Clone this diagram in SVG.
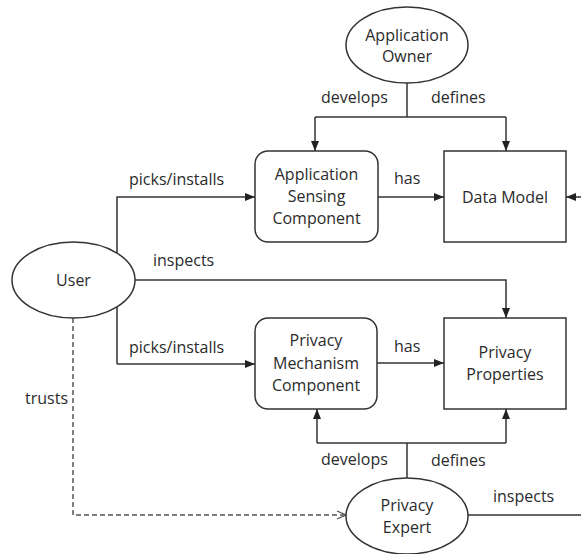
<svg xmlns="http://www.w3.org/2000/svg" width="581" height="554" viewBox="0 0 581 554">
<style>
text{font-family:"Open Sans","Liberation Sans",sans-serif;font-size:16px;fill:#2b2b2b}
.c{text-anchor:middle}
.shape{fill:#fff;stroke:#333;stroke-width:1.5}
.line{fill:none;stroke:#333;stroke-width:1.5}
.dash{fill:none;stroke:#555;stroke-width:1.5;stroke-dasharray:5 3}
</style>
<defs>
<marker id="arr" viewBox="0 0 10 8" refX="10" refY="4" markerWidth="10" markerHeight="8" markerUnits="userSpaceOnUse" orient="auto">
<path d="M0,0 L10,4 L0,8 Z" fill="#222"/>
</marker>
<marker id="open" viewBox="0 0 10 10" refX="10" refY="5" markerWidth="10" markerHeight="10" markerUnits="userSpaceOnUse" orient="auto">
<path d="M1,1 L10,5 L1,9" fill="none" stroke="#555" stroke-width="1.3"/>
</marker>
</defs>
<g id="connectors">
<path class="line" d="M407,83 V117"/>
<path class="line" d="M315,117 H506"/>
<path class="line" d="M315,117 V151" marker-end="url(#arr)"/>
<path class="line" d="M506,117 V151" marker-end="url(#arr)"/>
<path class="line" d="M117,364 V197 H255" marker-end="url(#arr)"/>
<path class="line" d="M117,364 H255" marker-end="url(#arr)"/>
<path class="line" d="M378,197 H444" marker-end="url(#arr)"/>
<path class="line" d="M377,363 H444" marker-end="url(#arr)"/>
<path class="line" d="M135,280 H506 V318" marker-end="url(#arr)"/>
<path class="line" d="M581,197 H566" marker-end="url(#arr)"/>
<path class="line" d="M407,478 V443"/>
<path class="line" d="M317,443 H506"/>
<path class="line" d="M317,443 V409" marker-end="url(#arr)"/>
<path class="line" d="M506,443 V409" marker-end="url(#arr)"/>
<path class="line" d="M468,515 H581"/>
<path class="dash" d="M73,318 V515 H346" marker-end="url(#open)"/>
<text x="321" y="103">develops</text>
<text x="431" y="103">defines</text>
<text x="129" y="185">picks/installs</text>
<text x="394" y="184">has</text>
<text x="153" y="266">inspects</text>
<text x="129" y="353">picks/installs</text>
<text x="394" y="352">has</text>
<text x="25" y="404">trusts</text>
<text x="321" y="465">develops</text>
<text x="431" y="466">defines</text>
<text x="493" y="502">inspects</text>
</g>
<g id="app-owner">
<ellipse class="shape" cx="407" cy="45" rx="61" ry="38"/>
<text class="c" x="407" y="41">Application</text>
<text class="c" x="407" y="62">Owner</text>
</g>
<g id="app-sensing">
<rect class="shape" x="255" y="151" width="123" height="91" rx="13"/>
<text class="c" x="316.5" y="180">Application</text>
<text class="c" x="316.5" y="202">Sensing</text>
<text class="c" x="316.5" y="224">Component</text>
</g>
<g id="data-model">
<rect class="shape" x="444" y="151" width="122" height="91"/>
<text class="c" x="505" y="203">Data Model</text>
</g>
<g id="user">
<ellipse class="shape" cx="73.5" cy="280" rx="61.5" ry="38"/>
<text class="c" x="73.5" y="286">User</text>
</g>
<g id="privacy-mechanism">
<rect class="shape" x="255" y="318" width="122" height="91" rx="13"/>
<text class="c" x="316" y="346">Privacy</text>
<text class="c" x="316" y="369">Mechanism</text>
<text class="c" x="316" y="391">Component</text>
</g>
<g id="privacy-properties">
<rect class="shape" x="444" y="318" width="122" height="91"/>
<text class="c" x="505" y="358">Privacy</text>
<text class="c" x="505" y="380">Properties</text>
</g>
<g id="privacy-expert">
<ellipse class="shape" cx="407" cy="516" rx="61" ry="38"/>
<text class="c" x="407" y="511">Privacy</text>
<text class="c" x="407" y="533">Expert</text>
</g>
</svg>
